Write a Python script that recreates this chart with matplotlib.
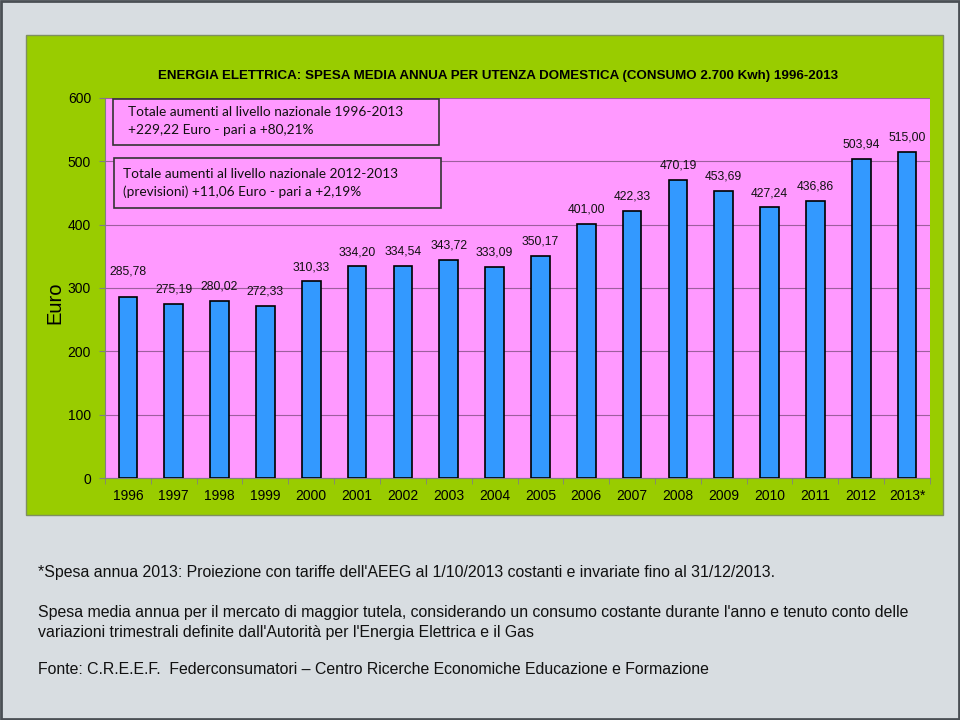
import matplotlib.pyplot as plt
from matplotlib.patches import Rectangle

years = ['1996', '1997', '1998', '1999', '2000', '2001', '2002', '2003', '2004',
         '2005', '2006', '2007', '2008', '2009', '2010', '2011', '2012', '2013*']
spesa = [285.78, 275.19, 280.02, 272.33, 310.33, 334.20, 334.54, 343.72, 333.09,
         350.17, 401.00, 422.33, 470.19, 453.69, 427.24, 436.86, 503.94, 515.00]
y_ticks = [0, 100, 200, 300, 400, 500, 600]

title = 'ENERGIA ELETTRICA: SPESA MEDIA ANNUA PER UTENZA DOMESTICA (CONSUMO 2.700 Kwh) 1996-2013'
box1_lines = ['Totale aumenti al livello nazionale 1996-2013',
              '+229,22 Euro - pari a +80,21%']
box2_lines = ['Totale aumenti al livello nazionale 2012-2013',
              '(previsioni) +11,06 Euro - pari a +2,19%']
notes = [
    (573, "*Spesa annua 2013: Proiezione con tariffe dell'AEEG al 1/10/2013 costanti e invariate fino al 31/12/2013."),
    (613, "Spesa media annua per il mercato di maggior tutela, considerando un consumo costante durante l'anno e tenuto conto delle"),
    (633, "variazioni trimestrali definite dall'Autorità per l'Energia Elettrica e il Gas"),
    (669, "Fonte: C.R.E.E.F.  Federconsumatori \u2013 Centro Ricerche Economiche Educazione e Formazione"),
]

W, H = 960, 720
plt.rcParams['font.family'] = ['Liberation Sans', 'DejaVu Sans']


def fx(x):
    return x / W


def fy(y):
    return 1 - y / H


fig = plt.figure(figsize=(9.6, 7.2), dpi=100, facecolor='#d8dde1')

# slide frame
fig.patches.append(Rectangle((0.001, 0.001), 0.998, 0.997, transform=fig.transFigure,
                             facecolor='none', edgecolor='#4a4f54', linewidth=2, zorder=-2))

# green chart panel
fig.patches.append(Rectangle((fx(26), fy(515)), fx(943) - fx(26), fy(35) - fy(515),
                             transform=fig.transFigure, facecolor='#99cc00',
                             edgecolor='#7f8f60', linewidth=1, zorder=-1))

ax = fig.add_axes([fx(105), fy(478), fx(930) - fx(105), fy(98) - fy(478)])
ax.set_zorder(2)
ax.set_facecolor('#ff99ff')
x = list(range(len(years)))
bars = ax.bar(x, spesa, width=0.41, color='#3399ff', edgecolor='black',
              linewidth=1.2, zorder=3)

ax.set_xlim(-0.5, len(years) - 0.5)
ax.set_ylim(0, 600)
ax.set_yticks(y_ticks)
ax.set_xticks(x)
ax.set_xticklabels(years)
ax.set_xticks([i - 0.5 for i in range(len(years) + 1)], minor=True)
ax.tick_params(axis='x', which='major', length=0, pad=8, labelsize=10)
ax.tick_params(axis='x', which='minor', length=4, color='#808080')
ax.tick_params(axis='y', length=4, color='#808080', pad=6, labelsize=10)
ax.grid(axis='y', color='#9e5f9e', linewidth=0.8, zorder=1)
for side in ['top', 'right']:
    ax.spines[side].set_visible(False)
for side in ['left', 'bottom']:
    ax.spines[side].set_color('#808080')

extra_pad = {0: 8}
for i, v in enumerate(spesa):
    ax.annotate(f'{v:.2f}'.replace('.', ','), (i, v),
                xytext=(0, 6 + extra_pad.get(i, 0)), textcoords='offset points',
                ha='center', va='bottom', fontsize=8.7, color='#111111')

fig.text(fx(498), fy(76), title, ha='center', va='center',
         fontsize=9.6, fontweight='bold')
fig.text(fx(55), fy(303), 'Euro', rotation=90, ha='center', va='center', fontsize=14.5)

# annotation boxes
for (x0, y0, x1, y1, tx, lines, ly) in [
        (113, 99, 439, 145, 128, box1_lines, (112, 130)),
        (114, 158, 441, 208, 123, box2_lines, (174, 192))]:
    fig.patches.append(Rectangle((fx(x0), fy(y1)), fx(x1) - fx(x0), fy(y0) - fy(y1),
                                 transform=fig.transFigure, facecolor='#ff99ff',
                                 edgecolor='#333333', linewidth=1.2, zorder=5))
    for line, yy in zip(lines, ly):
        fig.text(fx(tx), fy(yy), line, ha='left', va='center', fontsize=9.8,
                 family=['Lato', 'DejaVu Sans'], color='#111111', zorder=6)

for yy, txt in notes:
    fig.text(fx(38), fy(yy), txt, ha='left', va='center', fontsize=11.4, color='#111111')

fig.savefig('out.png', dpi=100, facecolor=fig.get_facecolor())
